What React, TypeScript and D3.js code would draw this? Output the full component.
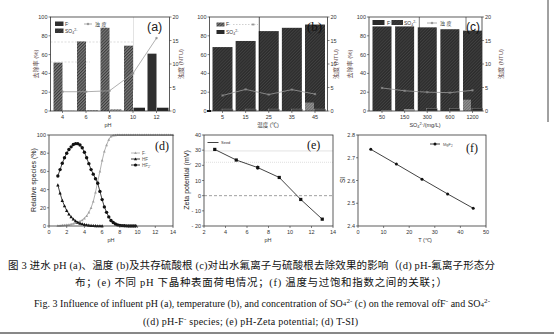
import React from 'react';
import * as d3 from 'd3';

// ---- Panel (a): influent pH ----
const phCats = ['4', '6', '8', '10', '12'];
const aF = [51.5, 74, 88.5, 69.5, 61];
const aSO4 = [0.3, 1, 2, 3.5, 3.5];
const aTurb = [4.1, 4.1, 4.3, 8, 15.5];

// ---- Panel (b): temperature ----
const tCats = ['5', '15', '25', '35', '45'];
const bF = [68, 74.5, 85, 88.5, 92];
const bSO4 = [2, 2, 2, 2, 2];
const bTurb = [3.3, 4.6, 3.5, 4.55, 3.6];

// ---- Panel (c): sulfate ----
const sCats = ['50', '150', '300', '600', '1200'];
const cF = [90, 90, 89, 87, 85.5];
const cSO4 = [0.5, 1.8, 2.5, 2.5, 3];
const cTurb = [4.9, 4.3, 4.0, 3.9, 4.4];

// ---- Panel (d): species ----
const dPH_A = [1, 1.25, 1.5, 1.75, 2, 2.25, 2.5, 2.75, 3, 3.25, 3.5, 3.75, 4, 4.25, 4.5, 4.75, 5, 5.25, 5.5, 5.75, 6, 6.25, 6.5, 6.75, 7, 7.25, 7.5, 7.75, 8, 8.25, 8.5, 8.75, 9, 9.25, 9.5, 9.75];
const dHF2 = [55, 62, 69, 75, 80, 84, 87, 89.5, 90.5, 90.5, 89, 86, 81, 75, 68.5, 62, 57, 52, 47, 38, 29, 21, 15, 10, 6, 3.8, 2.2, 1.2, 0.7, 0.4, 0.2, 0.1, 0.05, 0, 0, 0];
const dPH_B = [1, 1.25, 1.5, 1.75, 2, 2.25, 2.5, 2.75, 3, 3.25, 3.5, 3.75, 4, 4.25, 4.5, 4.75, 5, 5.25, 5.5, 5.75, 6];
const dHF = [45, 36, 28, 22, 17, 13, 10, 7.5, 5.5, 4, 3, 2.2, 1.6, 1.1, 0.8, 0.5, 0.3, 0.2, 0.1, 0.05, 0];
const dPH_F = [1, 1.25, 1.5, 1.75, 2, 2.25, 2.5, 2.75, 3, 3.25, 3.5, 3.75, 4, 4.25, 4.5, 4.75, 5, 5.25, 5.5, 5.75, 6, 6.25, 6.5, 6.75, 7, 7.25, 7.5, 7.75, 8, 8.25, 8.5, 8.75, 9, 9.25, 9.5, 9.75, 10, 10.25, 10.5, 10.75, 11, 11.25, 11.5, 11.75, 12, 12.25, 12.5, 12.75, 13, 13.25, 13.5, 13.75, 14];
const dFm = [0.3, 0.5, 0.8, 1, 1.3, 1.6, 2, 2.6, 3.3, 4.2, 5.2, 6.5, 8.5, 11, 15, 20, 27, 37, 49, 60, 72, 82, 89, 95, 98.5, 99.5, 99.9, 100, 100, 100, 100, 100, 100, 100, 100, 100, 100, 100, 100, 100, 100, 100, 100, 100, 100, 100, 100, 100, 100, 100, 100, 100, 100];

// ---- Panel (e): zeta ----
const ePH = [3, 5, 7, 9, 11, 13];
const eZeta = [30.5, 23.5, 18.5, 12, -2.5, -15.5];
const eErr = [0.8, 0.6, 1.5, 0.6, 0.6, 0.6];

// ---- Panel (f): SI ----
const fT = [5, 15, 25, 35, 45];
const fSI = [2.737, 2.672, 2.606, 2.541, 2.478];

const sans = "'Liberation Sans', Arial, sans-serif";
const cjk = "'Liberation Sans', 'Noto Sans CJK SC', sans-serif";
const serif = "'Liberation Serif', 'Noto Sans CJK SC', serif";
const ax = '#333';
const labRed = '#5e4646';

type Sc = (v: any) => number;

function LeftTicks({ s, x, ticks, fmt }: { s: Sc; x: number; ticks: number[]; fmt?: (v: number) => string }) {
  return (
    <g>
      {ticks.map((t) => (
        <g key={t}>
          <line x1={x - 2} x2={x} y1={s(t)} y2={s(t)} stroke={ax} strokeWidth={0.6} />
          <text x={x - 3} y={s(t) + 2} textAnchor="end" fontSize={5.5} fontFamily={sans} fill={ax}>
            {fmt ? fmt(t) : t}
          </text>
        </g>
      ))}
    </g>
  );
}
function RightTicks({ s, x, ticks }: { s: Sc; x: number; ticks: number[] }) {
  return (
    <g>
      {ticks.map((t) => (
        <g key={t}>
          <line x1={x} x2={x + 2} y1={s(t)} y2={s(t)} stroke={ax} strokeWidth={0.6} />
          <text x={x + 3} y={s(t) + 2} textAnchor="start" fontSize={5.5} fontFamily={sans} fill={ax}>
            {t}
          </text>
        </g>
      ))}
    </g>
  );
}
function BottomTicks({ s, y, ticks, labels }: { s: Sc; y: number; ticks: any[]; labels?: string[] }) {
  return (
    <g>
      {ticks.map((t, i) => (
        <g key={String(t)}>
          <line x1={s(t)} x2={s(t)} y1={y} y2={y + 2} stroke={ax} strokeWidth={0.6} />
          <text x={s(t)} y={y + 8} textAnchor="middle" fontSize={5.5} fontFamily={sans} fill={ax}>
            {labels ? labels[i] : String(t)}
          </text>
        </g>
      ))}
    </g>
  );
}
function Box({ x0, x1, y0, y1, w = 0.8 }: any) {
  return <rect x={x0} y={y0} width={x1 - x0} height={y1 - y0} fill="none" stroke={ax} strokeWidth={w} />;
}
function VLabel({ x, y, children, size = 6, fill = labRed, family = cjk }: any) {
  return (
    <text transform={`translate(${x},${y}) rotate(-90)`} textAnchor="middle" fontSize={size} fontFamily={family} fill={fill}>
      {children}
    </text>
  );
}
function Star({ x, y }: { x: number; y: number }) {
  return (
    <g stroke="#8a8a8a" strokeWidth={0.6}>
      <line x1={x - 1.3} x2={x + 1.3} y1={y} y2={y} />
      <line x1={x} x2={x} y1={y - 1.3} y2={y + 1.3} />
      <line x1={x - 1} x2={x + 1} y1={y - 1} y2={y + 1} />
      <line x1={x - 1} x2={x + 1} y1={y + 1} y2={y - 1} />
    </g>
  );
}

export default function App() {
  const W = 554, H = 334;
  const pctTicks = [0, 20, 40, 60, 80, 100];
  const ntuTicks = [0, 5, 10, 15, 20];

  // ---------- (a)
  const A = { x0: 50.5, x1: 169.5, y0: 17, y1: 111 };
  const xa = d3.scalePoint<string>().domain(phCats).range([62.5, 156.5]);
  const yaL = d3.scaleLinear().domain([0, 100]).range([A.y1, A.y0]);
  const yaR = d3.scaleLinear().domain([0, 20]).range([A.y1, A.y0]);
  const lineA = d3.line<number>().x((_, i) => xa(phCats[i])!).y((v) => yaR(v));

  // ---------- (b)
  const B = { x0: 209.5, x1: 327.5, y0: 17, y1: 111 };
  const xb = d3.scalePoint<string>().domain(tCats).range([222.5, 315]);
  const ybL = d3.scaleLinear().domain([0, 100]).range([B.y1, B.y0]);
  const ybR = d3.scaleLinear().domain([0, 20]).range([B.y1, B.y0]);
  const lineB = d3.line<number>().x((_, i) => xb(tCats[i])!).y((v) => ybR(v));

  // ---------- (c)
  const C = { x0: 369, x1: 482, y0: 17, y1: 111 };
  const xc = d3.scalePoint<string>().domain(sCats).range([382, 472.5]);
  const ycL = d3.scaleLinear().domain([0, 100]).range([C.y1, C.y0]);
  const ycR = d3.scaleLinear().domain([0, 20]).range([C.y1, C.y0]);
  const lineC = d3.line<number>().x((_, i) => xc(sCats[i])!).y((v) => ycR(v));

  // ---------- (d)
  const D = { x0: 49, x1: 173, y0: 135, y1: 226 };
  const xd = d3.scaleLinear().domain([0, 14]).range([D.x0, D.x1]);
  const yd = d3.scaleLinear().domain([0, 100]).range([D.y1, D.y0]);
  const ld = (xs: number[]) => d3.line<number>().x((_, i) => xd(xs[i])).y((v) => yd(v));

  // ---------- (e)
  const E = { x0: 204, x1: 333, y0: 135, y1: 226 };
  const xe = d3.scaleLinear().domain([2, 14]).range([E.x0, E.x1]);
  const ye = d3.scaleLinear().domain([-20, 40]).range([E.y1, E.y0]);
  const lineE = d3.line<number>().x((_, i) => xe(ePH[i])).y((v) => ye(v));

  // ---------- (f)
  const F = { x0: 358, x1: 486, y0: 135, y1: 226 };
  const xf = d3.scaleLinear().domain([0, 50]).range([F.x0, F.x1]);
  const yf = d3.scaleLinear().domain([2.4, 2.8]).range([F.y1, F.y0]);
  const lineF = d3.line<number>().x((_, i) => xf(fT[i])).y((v) => yf(v));

  const tri = (x: number, y: number, r: number) => `M${x},${y - r}L${x + r},${y + r * 0.8}L${x - r},${y + r * 0.8}Z`;

  return (
    <svg width={W} height={H} style={{ position: 'absolute', left: 0, top: 0, background: '#fff' }}>
      <defs>
        <pattern id="hatchA" patternUnits="userSpaceOnUse" width="2.2" height="2.2" patternTransform="rotate(45)">
          <rect width="2.2" height="2.2" fill="#7a7a7a" />
          <line x1="0.5" y1="0" x2="0.5" y2="2.2" stroke="#3c3c3c" strokeWidth="1" />
        </pattern>
        <pattern id="hatchD" patternUnits="userSpaceOnUse" width="2.2" height="2.2" patternTransform="rotate(45)">
          <rect width="2.2" height="2.2" fill="#2c2c2c" />
          <line x1="0.5" y1="0" x2="0.5" y2="2.2" stroke="#444" strokeWidth="0.8" />
        </pattern>
        <pattern id="hatchL" patternUnits="userSpaceOnUse" width="2" height="2" patternTransform="rotate(45)">
          <rect width="2" height="2" fill="#bdbdbd" />
          <line x1="0.5" y1="0" x2="0.5" y2="2" stroke="#777" strokeWidth="0.8" />
        </pattern>
      </defs>
      <rect width={W} height={H} fill="#fff" />

      {/* ================= (a) ================= */}
      <g>
        <line x1={A.x0} x2={133} y1={42} y2={42} stroke="#c8c8c8" strokeWidth={0.6} strokeDasharray="2,1.5" />
        <line x1={A.x0} x2={90} y1={62} y2={62} stroke="#c8c8c8" strokeWidth={0.6} strokeDasharray="2,1.5" />
        <line x1={133.5} x2={133.5} y1={A.y0} y2={90} stroke="#d0d0d0" strokeWidth={0.6} />
        {aF.map((v, i) => (
          <rect key={'af' + i} x={xa(phCats[i])! - 9} y={yaL(v)} width={9} height={A.y1 - yaL(v)}
            fill={i < 4 ? 'url(#hatchA)' : '#2f2f2f'} />
        ))}
        {aSO4.map((v, i) => (
          <rect key={'as' + i} x={xa(phCats[i])! + 0.5} y={yaL(v)} width={11.5} height={A.y1 - yaL(v)}
            fill={i < 3 ? 'url(#hatchL)' : '#262626'} />
        ))}
        <path d={lineA(aTurb)!} fill="none" stroke="#9a9a9a" strokeWidth={0.8} />
        {aTurb.map((v, i) => <Star key={'at' + i} x={xa(phCats[i])!} y={yaR(v)} />)}
        <Box {...A} />
        <LeftTicks s={yaL} x={A.x0} ticks={pctTicks} />
        <RightTicks s={yaR} x={A.x1} ticks={ntuTicks} />
        <BottomTicks s={(c: string) => xa(c)!} y={A.y1} ticks={phCats} />
        {/* legend */}
        <rect x={55} y={21.5} width={8.5} height={4.5} fill="#303030" />
        <text x={65} y={25.8} fontSize={5} fontFamily={sans} fill={ax}>F<tspan dy={-1.5} fontSize={3.5}>-</tspan></text>
        <rect x={55} y={28.5} width={8.5} height={4.5} fill="url(#hatchD)" />
        <text x={65} y={32.8} fontSize={5} fontFamily={sans} fill={ax}>SO<tspan dy={1} fontSize={3.5}>4</tspan><tspan dy={-2.5} fontSize={3.5}>2-</tspan></text>
        <line x1={84} x2={92} y1={24} y2={24} stroke="#8a8a8a" strokeWidth={0.7} />
        <Star x={88} y={24} />
        <text x={95} y={26} fontSize={5} fontFamily={cjk} fill={ax}>浊 度</text>
        <text x={147} y={30.5} fontSize={12.5} fontFamily={sans} fill="#222">(a)</text>
        <VLabel x={38} y={64}>去除率 (%)</VLabel>
        <VLabel x={183} y={64}>浊度 (NTU)</VLabel>
        <text x={108} y={127} textAnchor="middle" fontSize={5.5} fontFamily={sans} fill={ax}>pH</text>
      </g>

      {/* ================= (b) ================= */}
      <g>
        <line x1={233} x2={258} y1={24.5} y2={24.5} stroke="#b0b0b0" strokeWidth={0.6} strokeDasharray="1.5,1.5" />
        {bF.map((v, i) => (
          <rect key={'bf' + i} x={xb(tCats[i])! - 10} y={ybL(v)} width={20} height={B.y1 - ybL(v)} fill="url(#hatchD)" />
        ))}
        <rect x={xb('45')! - 10} y={ybL(9)} width={9} height={B.y1 - ybL(9)} fill="url(#hatchL)" opacity={0.7} />
        {bSO4.map((v, i) => (
          <rect key={'bs' + i} x={xb(tCats[i])! - 0.5} y={ybL(v)} width={11} height={B.y1 - ybL(v)}
            fill="#252525" stroke="#9a9a9a" strokeWidth={0.5} />
        ))}
        <path d={lineB(bTurb)!} fill="none" stroke="#9a9a9a" strokeWidth={0.8} />
        {bTurb.map((v, i) => <Star key={'bt' + i} x={xb(tCats[i])!} y={ybR(v)} />)}
        <line x1={259.3} x2={259.3} y1={B.y0} y2={B.y1} stroke="#111" strokeWidth={0.7} />
        <Box {...B} />
        <LeftTicks s={ybL} x={B.x0} ticks={pctTicks} />
        <RightTicks s={ybR} x={B.x1} ticks={ntuTicks} />
        <BottomTicks s={(c: string) => xb(c)!} y={B.y1} ticks={tCats} />
        <rect x={207} y={110} width={4} height={2} fill="#111" />
        <rect x={216.5} y={22.5} width={8} height={4} fill="url(#hatchA)" />
        <text x={226} y={26.3} fontSize={5} fontFamily={sans} fill={ax}>F<tspan dy={-1.5} fontSize={3.5}>-</tspan></text>
        <rect x={216.5} y={30} width={8} height={4} fill="#2a2a2a" />
        <text x={226} y={33.8} fontSize={5} fontFamily={sans} fill={ax}>SO<tspan dy={1} fontSize={3.5}>4</tspan><tspan dy={-2.5} fontSize={3.5}>2-</tspan></text>
        <Star x={253} y={24.5} />
        <text x={307} y={31} fontSize={13} fontFamily={serif} fill="#111">(b)</text>
        <VLabel x={338} y={64}>浊度 (NTU)</VLabel>
        <text x={268} y={127} textAnchor="middle" fontSize={5.5} fontFamily={cjk} fill={ax}>温度 (℃)</text>
      </g>

      {/* ================= (c) ================= */}
      <g>
        {cF.map((v, i) => (
          <rect key={'cf' + i} x={xc(sCats[i])! - 9.5} y={ycL(v)} width={19} height={C.y1 - ycL(v)} fill="url(#hatchD)" />
        ))}
        <rect x={xc('1200')! - 9.5} y={ycL(12)} width={8} height={C.y1 - ycL(12)} fill="url(#hatchL)" opacity={0.7} />
        {cSO4.map((v, i) => (
          <rect key={'cs' + i} x={xc(sCats[i])! - 0.5} y={ycL(v)} width={10.5} height={C.y1 - ycL(v)}
            fill={i < 2 ? '#b5b5b5' : '#262626'} stroke="#9a9a9a" strokeWidth={0.4} />
        ))}
        <path d={lineC(cTurb)!} fill="none" stroke="#9a9a9a" strokeWidth={0.8} />
        {cTurb.map((v, i) => <Star key={'ct' + i} x={xc(sCats[i])!} y={ycR(v)} />)}
        <line x1={419.3} x2={419.3} y1={C.y0} y2={C.y1} stroke="#222" strokeWidth={0.6} />
        <line x1={466} x2={466} y1={C.y0} y2={30} stroke="#222" strokeWidth={0.6} />
        <Box {...C} />
        <LeftTicks s={ycL} x={C.x0} ticks={pctTicks} />
        <RightTicks s={ycR} x={C.x1} ticks={ntuTicks} />
        <BottomTicks s={(c: string) => xc(c)!} y={C.y1} ticks={sCats} />
        <rect x={372.5} y={20} width={12} height={5} fill="#2a2a2a" />
        <text x={387} y={24.5} fontSize={5} fontFamily={sans} fill={ax}>F<tspan dy={-1.5} fontSize={3.5}>-</tspan></text>
        <rect x={391.5} y={20} width={11.5} height={5} fill="url(#hatchD)" />
        <text x={404} y={24.5} fontSize={5} fontFamily={sans} fill={ax}>SO<tspan dy={1} fontSize={3.5}>4</tspan><tspan dy={-2.5} fontSize={3.5}>2-</tspan></text>
        <line x1={427} x2={437} y1={23} y2={23} stroke="#8a8a8a" strokeWidth={0.7} />
        <Star x={432} y={23} />
        <text x={440} y={25} fontSize={5} fontFamily={cjk} fill={ax}>浊 度</text>
        <text x={466} y={30.5} fontSize={12} fontFamily={sans} fill="#111">(c)</text>
        <VLabel x={352} y={64}>去除率 (%)</VLabel>
        <VLabel x={503} y={64}>浊度 (NTU)</VLabel>
        <text x={425} y={127} textAnchor="middle" fontSize={5.5} fontFamily={sans} fill={ax}>
          SO<tspan dy={1} fontSize={4}>4</tspan><tspan dy={-3} fontSize={4}>2-</tspan><tspan dy={2}>/(mg/L)</tspan>
        </text>
      </g>

      {/* ================= (d) ================= */}
      <g>
        <path d={ld(dPH_F)(dFm)!} fill="none" stroke="#a8a8a8" strokeWidth={0.9} />
        {dFm.map((v, i) => (
          <path key={'df' + i} d={tri(xd(dPH_F[i]), yd(v), 1.4)} fill="#a0a0a0" />
        ))}
        <path d={ld(dPH_B)(dHF)!} fill="none" stroke="#111" strokeWidth={0.8} />
        {dHF.map((v, i) => (
          <path key={'dh' + i} d={tri(xd(dPH_B[i]), yd(v), 1.7)} fill="#111" />
        ))}
        <path d={ld(dPH_A)(dHF2)!} fill="none" stroke="#111" strokeWidth={0.8} />
        {dHF2.map((v, i) => (
          <circle key={'dh2' + i} cx={xd(dPH_A[i])} cy={yd(v)} r={1.7} fill="#111" />
        ))}
        <Box {...D} />
        <LeftTicks s={yd} x={D.x0} ticks={pctTicks} />
        <BottomTicks s={xd} y={D.y1} ticks={[0, 2, 4, 6, 8, 10, 12, 14]} />
        <line x1={131} x2={140} y1={153} y2={153} stroke="#a8a8a8" strokeWidth={0.8} />
        <path d={tri(135.5, 153, 1.4)} fill="#a0a0a0" />
        <text x={142} y={155} fontSize={4.5} fontFamily={sans} fill="#555">F<tspan dy={-1.5} fontSize={3.2}>-</tspan></text>
        <line x1={131} x2={140} y1={159} y2={159} stroke="#111" strokeWidth={0.8} />
        <path d={tri(135.5, 159, 1.6)} fill="#111" />
        <text x={142} y={161} fontSize={4.5} fontFamily={sans} fill="#555">HF</text>
        <line x1={131} x2={140} y1={165} y2={165} stroke="#111" strokeWidth={0.8} />
        <circle cx={135.5} cy={165} r={1.6} fill="#111" />
        <text x={142} y={167} fontSize={4.5} fontFamily={sans} fill="#555">HF<tspan dy={1} fontSize={3.2}>2</tspan><tspan dy={-2.5} fontSize={3.2}>-</tspan></text>
        <text x={155} y={150} fontSize={12} fontFamily={serif} fill="#111">(d)</text>
        <VLabel x={36} y={180} size={7} fill="#222" family={sans}>Relative species (%)</VLabel>
        <text x={111} y={242} textAnchor="middle" fontSize={5.5} fontFamily={sans} fill={ax}>pH</text>
      </g>

      {/* ================= (e) ================= */}
      <g>
        <line x1={E.x0} x2={E.x1} y1={ye(29.5)} y2={ye(29.5)} stroke="#dcdcdc" strokeWidth={0.8} />
        <line x1={E.x0} x2={E.x1} y1={ye(22)} y2={ye(22)} stroke="#d8d8d8" strokeWidth={0.8} strokeDasharray="1,1" />
        <line x1={E.x0} x2={E.x1} y1={ye(0)} y2={ye(0)} stroke="#777" strokeWidth={0.7} strokeDasharray="3,2" />
        <path d={lineE(eZeta)!} fill="none" stroke="#111" strokeWidth={0.8} />
        {eZeta.map((v, i) => (
          <g key={'e' + i}>
            <line x1={xe(ePH[i])} x2={xe(ePH[i])} y1={ye(v - eErr[i])} y2={ye(v + eErr[i])} stroke="#111" strokeWidth={0.7} />
            <rect x={xe(ePH[i]) - 1.6} y={ye(v) - 1.6} width={3.2} height={3.2} fill="#111" />
          </g>
        ))}
        <Box {...E} />
        <LeftTicks s={ye} x={E.x0} ticks={[-20, -10, 0, 10, 20, 30, 40]} fmt={(v) => (v < 0 ? '- ' + Math.abs(v) : String(v))} />
        <BottomTicks s={xe} y={E.y1} ticks={[2, 4, 6, 8, 10, 12, 14]} />
        <line x1={207.5} x2={218.5} y1={142.5} y2={142.5} stroke="#111" strokeWidth={0.8} />
        <text x={221} y={144} fontSize={4} fontFamily={sans} fill="#333">Seed</text>
        <text x={307} y={149} fontSize={12} fontFamily={serif} fill="#111">(e)</text>
        <VLabel x={189} y={180} size={7} fill="#222" family={sans}>Zeta potential (mV)</VLabel>
        <text x={268} y={242} textAnchor="middle" fontSize={5.5} fontFamily={sans} fill={ax}>pH</text>
      </g>

      {/* ================= (f) ================= */}
      <g>
        <path d={lineF(fSI)!} fill="none" stroke="#111" strokeWidth={0.8} />
        {fSI.map((v, i) => (
          <circle key={'f' + i} cx={xf(fT[i])} cy={yf(v)} r={1.5} fill="#111" />
        ))}
        <Box {...F} />
        <LeftTicks s={yf} x={F.x0} ticks={[2.4, 2.5, 2.6, 2.7, 2.8]} fmt={(v) => v.toFixed(1)} />
        <BottomTicks s={xf} y={F.y1} ticks={[0, 10, 20, 30, 40, 50]} />
        <line x1={430} x2={440} y1={144} y2={144} stroke="#111" strokeWidth={0.8} />
        <circle cx={435} cy={144} r={1.5} fill="#111" />
        <text x={443} y={145.5} fontSize={4} fontFamily={sans} fill="#555">MgF<tspan dy={1} fontSize={3}>2</tspan></text>
        <text x={466} y={152} fontSize={12} fontFamily={serif} fill="#111">(f)</text>
        <VLabel x={345} y={180} size={6.5} fill="#222" family={sans}>SI</VLabel>
        <text x={425} y={242} textAnchor="middle" fontSize={5.5} fontFamily={sans} fill={ax}>T (℃)</text>
      </g>

      <line x1={548} x2={548} y1={0} y2={122} stroke="#111" strokeWidth={0.8} />

      {/* ================= caption ================= */}
      <text x={8} y={269} fontSize={10.5} fontFamily={serif} fill="#111" textLength={487} lengthAdjust="spacing">
        图 3  进水 pH (a)、温度 (b)及共存硫酸根 (c)对出水氟离子与硫酸根去除效果的影响（(d) pH-氟离子形态分
      </text>
      <text x={75} y={286} fontSize={10.5} fontFamily={serif} fill="#111" textLength={372} lengthAdjust="spacing">
        布；(e) 不同 pH 下晶种表面荷电情况；(f) 温度与过饱和指数之间的关联；）
      </text>
      <text x={34} y={307} fontSize={10} fontFamily={serif} fill="#111" textLength={456} lengthAdjust="spacing">
        Fig. 3 Influence of influent pH (a), temperature (b), and concentration of SO<tspan fontSize={7} dy={-1}>4</tspan><tspan fontSize={7} dy={-3}>2-</tspan><tspan dy={4}> (c) on the removal ofF</tspan><tspan fontSize={7} dy={-4}>-</tspan><tspan dy={4}> and SO</tspan><tspan fontSize={7} dy={0}>4</tspan><tspan fontSize={7} dy={-4}>2-</tspan>
      </text>
      <text x={143} y={325} fontSize={10} fontFamily={serif} fill="#111" textLength={215} lengthAdjust="spacing">
        ((d) pH-F<tspan fontSize={7} dy={-4}>-</tspan><tspan dy={4}> species; (e) pH-Zeta potential; (d) T-SI)</tspan>
      </text>
      <line x1={0} x2={W} y1={333} y2={333} stroke="#111" strokeWidth={1} />
    </svg>
  );
}
